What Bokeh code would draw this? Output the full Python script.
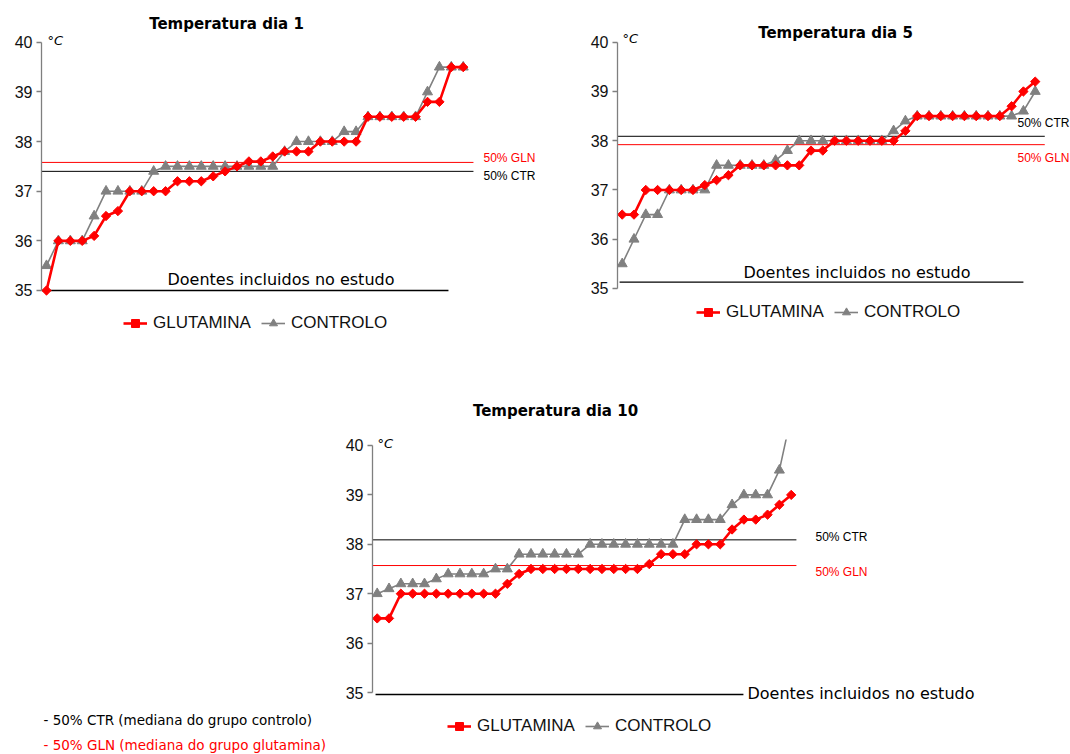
from bokeh.plotting import figure
from bokeh.layouts import column, row
from bokeh.models import FixedTicker, Label, Legend, LegendItem
from bokeh.embed import file_html
from bokeh.resources import INLINE

# ---------------- data ----------------
patients = list(range(1, 37))

gln_day1 = [35.0, 36.0, 36.0, 36.0, 36.1, 36.5, 36.6, 37.0, 37.0, 37.0, 37.0, 37.2,
            37.2, 37.2, 37.3, 37.4, 37.5, 37.6, 37.6, 37.7, 37.8, 37.8, 37.8, 38.0,
            38.0, 38.0, 38.0, 38.5, 38.5, 38.5, 38.5, 38.5, 38.8, 38.8, 39.5, 39.5]
ctr_day1 = [35.5, 36.0, 36.0, 36.0, 36.5, 37.0, 37.0, 37.0, 37.0, 37.4, 37.5, 37.5,
            37.5, 37.5, 37.5, 37.5, 37.5, 37.5, 37.5, 37.5, 37.8, 38.0, 38.0, 38.0,
            38.0, 38.2, 38.2, 38.5, 38.5, 38.5, 38.5, 38.5, 39.0, 39.5, 39.5, 39.5]

gln_day5 = [36.5, 36.5, 37.0, 37.0, 37.0, 37.0, 37.0, 37.1, 37.2, 37.3, 37.5, 37.5,
            37.5, 37.5, 37.5, 37.5, 37.8, 37.8, 38.0, 38.0, 38.0, 38.0, 38.0, 38.0,
            38.2, 38.5, 38.5, 38.5, 38.5, 38.5, 38.5, 38.5, 38.5, 38.7, 39.0, 39.2]
ctr_day5 = [35.5, 36.0, 36.5, 36.5, 37.0, 37.0, 37.0, 37.0, 37.5, 37.5, 37.5, 37.5,
            37.5, 37.6, 37.8, 38.0, 38.0, 38.0, 38.0, 38.0, 38.0, 38.0, 38.0, 38.2,
            38.4, 38.5, 38.5, 38.5, 38.5, 38.5, 38.5, 38.5, 38.5, 38.5, 38.6, 39.0]

gln_day10 = [36.5, 36.5, 37.0, 37.0, 37.0, 37.0, 37.0, 37.0, 37.0, 37.0, 37.0, 37.2,
             37.4, 37.5, 37.5, 37.5, 37.5, 37.5, 37.5, 37.5, 37.5, 37.5, 37.5, 37.6,
             37.8, 37.8, 37.8, 38.0, 38.0, 38.0, 38.3, 38.5, 38.5, 38.6, 38.8, 39.0]
ctr_day10 = [37.0, 37.1, 37.2, 37.2, 37.2, 37.3, 37.4, 37.4, 37.4, 37.4, 37.5, 37.5,
             37.8, 37.8, 37.8, 37.8, 37.8, 37.8, 38.0, 38.0, 38.0, 38.0, 38.0, 38.0,
             38.0, 38.0, 38.5, 38.5, 38.5, 38.5, 38.8, 39.0, 39.0, 39.0, 39.5, 40.6]

# group medians (50%) drawn as reference lines
median_gln = [37.58, 37.92, 37.57]
median_ctr = [37.40, 38.09, 38.09]

titles = ["Temperatura dia 1", "Temperatura dia 5", "Temperatura dia 10"]
y_ticks = [35, 36, 37, 38, 39, 40]
series_labels = ["GLUTAMINA", "CONTROLO"]
x_caption = "Doentes incluidos no estudo"
notes = ["- 50% CTR (mediana do grupo controlo)", "- 50% GLN (mediana do grupo glutamina)"]

RED = "#ff0000"
GREY = "#808080"
TICK_FONT = "Liberation Sans"
TEXT_FONT = "DejaVu Sans"


def base_figure(width, height, border_left, x_range, y_range):
    p = figure(width=width, height=height, x_range=x_range, y_range=y_range,
               x_axis_type=None, output_backend="svg", toolbar_location=None,
               min_border_left=border_left, min_border_right=0,
               min_border_top=0, min_border_bottom=0)
    p.outline_line_color = None
    p.ygrid.visible = False
    p.background_fill_color = "white"
    p.border_fill_color = "white"
    ax = p.yaxis[0]
    ax.ticker = FixedTicker(ticks=y_ticks)
    ax.bounds = (35, 40)
    ax.axis_line_color = "#7f7f7f"
    ax.axis_line_width = 1.3
    ax.major_tick_line_color = "#7f7f7f"
    ax.major_tick_line_width = 1.3
    ax.major_tick_in = 0
    ax.major_tick_out = 5
    ax.minor_tick_line_color = None
    ax.major_label_standoff = 4
    ax.major_label_text_font = TICK_FONT
    ax.major_label_text_font_size = "16px"
    ax.major_label_text_color = "#111111"
    return p


def put(p, frame_left, frame_bottom, cx, cy, text, align="left", **kw):
    style = dict(text_font=TEXT_FONT, text_font_size="13px", text_color="black")
    style.update(kw)
    p.add_layout(Label(x=cx - frame_left, y=frame_bottom - cy, x_units="screen",
                       y_units="screen", text=text, text_align=align,
                       text_baseline="middle", **style))


def draw_chart(p, gln, ctr, k, line_end, base_from, base_to, base_y):
    x0 = p.x_range.start
    # median reference lines
    p.line([x0, line_end], [median_gln[k], median_gln[k]], line_color=RED, line_width=1)
    p.line([x0, line_end], [median_ctr[k], median_ctr[k]], line_color="black", line_width=1)
    # baseline under the patients
    p.line([base_from, base_to], [base_y, base_y], line_color="black", line_width=1.4)
    # series
    gl = p.line(patients, ctr, line_color=GREY, line_width=1.6)
    gs = p.scatter(patients, ctr, marker="triangle", size=10, fill_color=GREY,
                   line_color=GREY)
    rl = p.line(patients, gln, line_color=RED, line_width=2.6)
    rs = p.scatter(patients, gln, marker="square", angle=0.785398, size=6.6,
                   fill_color=RED, line_color=RED)
    return (rl, rs), (gl, gs)


def add_legend(p, red, grey, loc):
    legend = Legend(items=[LegendItem(label=series_labels[0], renderers=list(red)),
                           LegendItem(label=series_labels[1], renderers=list(grey))],
                    orientation="horizontal", location=loc,
                    border_line_color=None, background_fill_alpha=0,
                    padding=0, margin=0, spacing=10, label_standoff=6,
                    glyph_width=24, glyph_height=20,
                    label_text_font=TICK_FONT, label_text_font_size="17px",
                    label_text_color="#111111")
    p.add_layout(legend)


# ---------------- day 1 ----------------
p1 = base_figure(535, 350, 41, (0.580, 42.07), (33.791, 40.842))
red, grey = draw_chart(p1, gln_day1, ctr_day1, 0, 36.86, 0.58, 34.76, 35.0)
add_legend(p1, red, grey, (82, 17))
F1L, F1B = 41, 350
put(p1, F1L, F1B, 226, 23, titles[0], align="center", text_font_size="15px",
    text_font_style="bold")
put(p1, F1L, F1B, 47, 40, "°C", text_font_size="13px", text_font_style="italic")
put(p1, F1L, F1B, 167, 279, x_caption, text_font_size="16px")
put(p1, F1L, F1B, 483, 157, "50% GLN", text_font=TICK_FONT, text_font_size="12px",
    text_color=RED)
put(p1, F1L, F1B, 483, 175, "50% CTR", text_font=TICK_FONT, text_font_size="12px")

# ---------------- day 5 ----------------
p2 = base_figure(535, 350, 82, (0.602, 38.99), (33.741, 40.847))
red, grey = draw_chart(p2, gln_day5, ctr_day5, 1, 36.81, 0.78, 35.0, 35.13)
add_legend(p2, red, grey, (79, 28))
F2L, F2B = 82, 350
put(p2, F2L, F2B, 835 - 535, 32, titles[1], align="center", text_font_size="15px",
    text_font_style="bold")
put(p2, F2L, F2B, 622 - 535, 38, "°C", text_font_size="13px", text_font_style="italic")
put(p2, F2L, F2B, 743 - 535, 272, x_caption, text_font_size="16px")
put(p2, F2L, F2B, 1017 - 535, 122, "50% CTR", text_font=TICK_FONT, text_font_size="12px")
put(p2, F2L, F2B, 1017 - 535, 157, "50% GLN", text_font=TICK_FONT, text_font_size="12px",
    text_color=RED)

# ---------------- day 10 ----------------
p3 = base_figure(740, 404, 42, (0.603, 59.61), (33.745, 41.923))
red, grey = draw_chart(p3, gln_day10, ctr_day10, 2, 36.44, 0.86, 31.96, 34.96)
# the plot area stops just above 40 °C: hide what rises past it
p3.quad(left=35.45, right=36.8, bottom=40.12, top=41.5, fill_color="white",
        line_color=None)
add_legend(p3, red, grey, (75, 18))
F3L, F3B = 42, 404
OX, OY = 330, 350
put(p3, F3L, F3B, 555 - OX, 410 - OY, titles[2], align="center", text_font_size="15px",
    text_font_style="bold")
put(p3, F3L, F3B, 377 - OX, 443 - OY, "°C", text_font_size="13px", text_font_style="italic")
put(p3, F3L, F3B, 747 - OX, 693 - OY, x_caption, text_font_size="16px")
put(p3, F3L, F3B, 815 - OX, 536 - OY, "50% CTR", text_font=TICK_FONT, text_font_size="12px")
put(p3, F3L, F3B, 815 - OX, 571 - OY, "50% GLN", text_font=TICK_FONT, text_font_size="12px",
    text_color=RED)

# ---------------- notes ----------------
pn = figure(width=330, height=404, x_range=(0, 330), y_range=(0, 404),
            x_axis_type=None, y_axis_type=None, output_backend="svg",
            toolbar_location=None, min_border=0)
pn.outline_line_color = None
pn.xgrid.visible = False
pn.ygrid.visible = False
put(pn, 0, 404, 43, 719 - OY, notes[0], text_font_size="13.5px")
put(pn, 0, 404, 43, 744 - OY, notes[1], text_font_size="13.5px", text_color=RED)

layout = column(row(p1, p2), row(pn, p3))

with open("out.html", "w") as f:
    f.write(file_html(layout, INLINE))
